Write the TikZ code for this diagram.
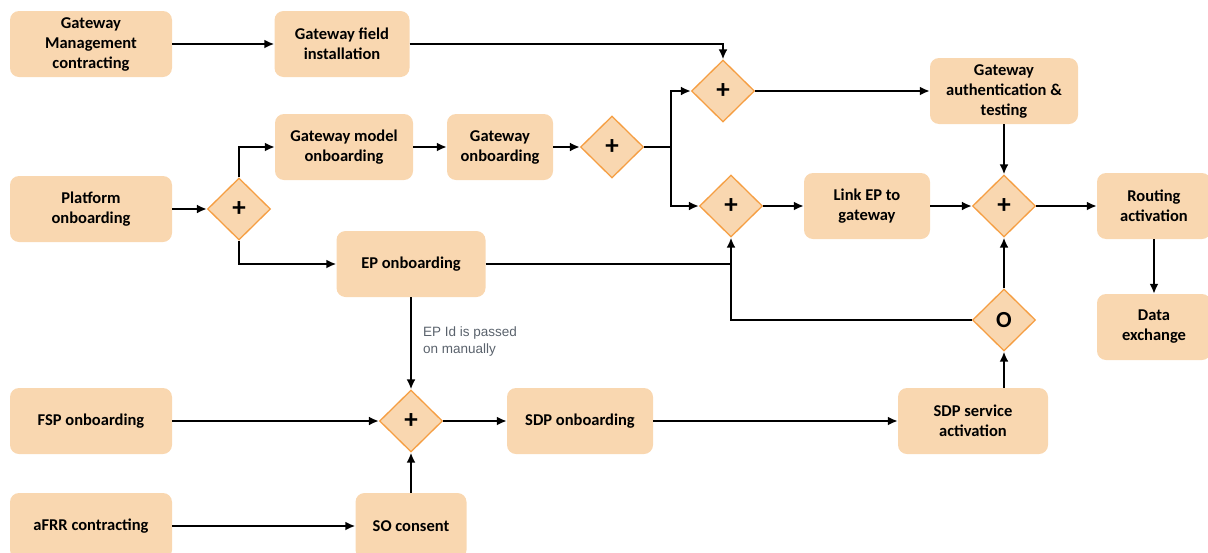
\documentclass[tikz,border=0pt]{standalone}
\usepackage{fontspec}
\setmainfont{Carlito}
\newfontfamily\notefont{Liberation Sans}
\usetikzlibrary{shapes.geometric,arrows.meta}
\definecolor{boxfill}{RGB}{249,215,176}
\definecolor{gateline}{RGB}{245,158,66}
\definecolor{notegray}{RGB}{90,98,108}

\tikzstyle {block} = [fill=boxfill, rounded corners=9pt, minimum height=66pt, align=center, inner sep=2pt, font=\fontsize{16.5}{20}\selectfont\bfseries]
\tikzstyle {gate} = [diamond, draw=gateline, line width=1.3pt, fill=boxfill, minimum width=63pt, minimum height=62pt, inner sep=0pt, font=\fontsize{27}{27}\selectfont\bfseries]
\tikzstyle {flow} = [line width=2.6pt, -{Latex[length=10pt,width=9pt]}]
\tikzstyle {wire} = [line width=2.6pt]
\tikzstyle {note} = [anchor=north west, align=left, inner sep=0pt, text=notegray, font=\notefont\fontsize{13.5}{16.5}\selectfont]

\begin{document}
\begin{tikzpicture}[x=1pt, y=-1pt]
            \useasboundingbox (0,0) rectangle (1208,552);
            % boxes
            \node [block, minimum width=162pt] (gmc) at (91,44) {Gateway\\Management\\contracting};
            \node [block, minimum width=135pt] (gfi) at (342,44) {Gateway field\\installation};
            \node [block, minimum width=162pt] (plat) at (91,209) {Platform\\onboarding};
            \node [block, minimum width=138pt] (gmo) at (344,147) {Gateway model\\onboarding};
            \node [block, minimum width=106pt] (gwo) at (500,147) {Gateway\\onboarding};
            \node [block, minimum width=148pt] (gat) at (1004,91) {Gateway\\authentication \&\\testing};
            \node [block, minimum width=126pt] (link) at (867,206) {Link EP to\\gateway};
            \node [block, minimum width=114pt] (route) at (1154,206) {Routing\\activation};
            \node [block, minimum width=114pt] (data) at (1154,327) {Data\\exchange};
            \node [block, minimum width=150pt] (sdpsa) at (973,421) {SDP service\\activation};
            \node [block, minimum width=149pt] (ep) at (411,264) {EP onboarding};
            \node [block, minimum width=146pt] (sdp) at (580,421) {SDP onboarding};
            \node [block, minimum width=111pt] (so) at (411,526) {SO consent};
            \node [block, minimum width=162pt] (fsp) at (91,421) {FSP onboarding};
            \node [block, minimum width=162pt] (afrr) at (91,526) {aFRR contracting};
            % gateways
            \node [gate] (g1) at (239,209) {+};
            \node [gate] (g2) at (612,147) {+};
            \node [gate] (g3) at (723,91) {+};
            \node [gate] (g4) at (731,206) {+};
            \node [gate] (g5) at (1004,206) {+};
            \node [gate, font=\fontsize{23}{23}\selectfont\bfseries] (g6) at (1004,320) {O};
            \node [gate] (g7) at (411,421) {+};
            \coordinate (split) at (671,147);
            % flows
            \draw [flow] (gmc) -- (gfi);
            \draw [flow] (gfi.east) -| (g3.north);
            \draw [flow] (plat) -- (g1);
            \draw [flow] (g1.north) |- (gmo.west);
            \draw [flow] (g1.south) |- (ep.west);
            \draw [flow] (gmo) -- (gwo);
            \draw [flow] (gwo) -- (g2);
            \draw [wire] (g2.east) -- (split);
            \draw [flow] (split) |- (g3.west);
            \draw [flow] (split) |- (g4.west);
            \draw [flow] (g3.east) -- (g3.east -| gat.west);
            \draw [flow] (gat) -- (g5);
            \draw [wire] (ep.east) -- (ep.east -| g4.south);
            \draw [flow] (g6.west) -| (g4.south);
            \draw [flow] (g4) -- (link);
            \draw [flow] (link) -- (g5);
            \draw [flow] (g5) -- (route);
            \draw [flow] (route) -- (data);
            \draw [flow] (g6.south |- sdpsa.north) -- (g6.south);
            \draw [flow] (g6) -- (g5);
            \draw [flow] (ep) -- (g7);
            \draw [flow] (fsp) -- (g7);
            \draw [flow] (g7) -- (sdp);
            \draw [flow] (sdp) -- (sdpsa);
            \draw [flow] (so) -- (g7);
            \draw [flow] (afrr) -- (so);
            \node [note] (eplabel) at (423,327) {EP Id is passed\\on manually};
        \end{tikzpicture}
\end{document}
